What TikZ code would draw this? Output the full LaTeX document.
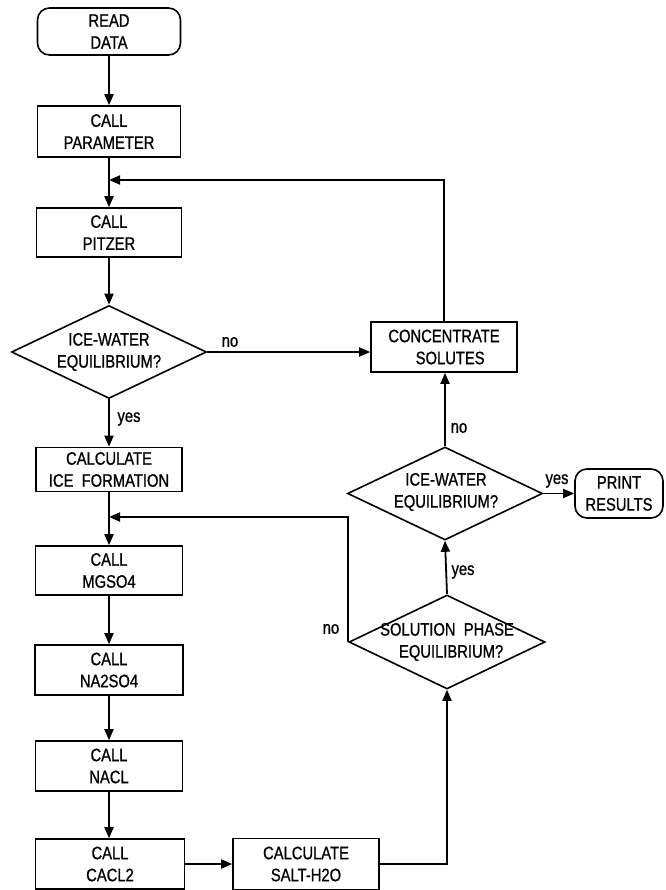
\documentclass[tikz,border=0pt]{standalone}
\usepackage{fontspec}
\setmainfont{Liberation Sans}[FakeStretch=0.82,FakeBold=0.9]
\usetikzlibrary{shapes.geometric,arrows.meta}
\begin{document}
\begin{tikzpicture}[x=1pt,y=-1pt,
  txt/.style={align=center, inner sep=0pt, font=\fontsize{18}{22}\selectfont},
  procbox/.style={txt, draw, line width=1.6pt, rectangle, minimum width=146pt, minimum height=50pt},
  termbox/.style={procbox, rounded corners=12pt},
  decbox/.style={draw, line width=1.6pt, diamond, inner sep=0pt, minimum width=195pt, minimum height=93pt},
  arr/.style={line width=1.8pt, -{Triangle[length=11pt,width=9pt]}},
  lbl/.style={inner sep=0pt, font=\fontsize{18}{20}\selectfont}
]
\useasboundingbox (0,0) rectangle (665,890);

% left column
\node[termbox, minimum width=143pt, minimum height=47pt] (read) at (109,31.5) {READ\\DATA};
\node[procbox, minimum width=143pt, minimum height=51pt] (param) at (109,131.5) {CALL\\PARAMETER};
\node[procbox, minimum width=145pt, minimum height=49pt] (pitzer) at (109,232.5) {CALL\\PITZER};
\node[decbox] (d1) at (109,352) {};
\node[txt] (d1t) at (109,352) {ICE-WATER\\EQUILIBRIUM?};
\node[procbox, minimum height=44pt] (ice) at (109,469.5) {CALCULATE\\ICE\ \ FORMATION};
\node[procbox, minimum width=147pt, minimum height=49pt] (mg) at (109,570.5) {CALL\\MGSO4};
\node[procbox, minimum width=148pt] (na2) at (109,670) {CALL\\NA2SO4};
\node[procbox, minimum width=147pt] (nacl) at (109,766) {CALL\\NACL};
\node[procbox, minimum width=149pt] (cacl) at (110,864) {CALL\\CACL2};

% right part
\node[procbox, minimum height=51pt] (salt) at (306,864) {CALCULATE\\SALT-H2O};
\node[procbox] (conc) at (444,347) {CONCENTRATE\\\ \ \ SOLUTES};
\node[decbox] (d2) at (445,493.5) {};
\node[txt] (d2t) at (446,492) {ICE-WATER\\EQUILIBRIUM?};
\node[decbox, minimum width=196pt, minimum height=94pt] (d3) at (447,642) {};
\node[txt] (d3t) at (447,642) {SOLUTION\ \ PHASE\\\ \ EQUILIBRIUM?};
\node[termbox, minimum width=88pt, minimum height=49pt] (print) at (619,493.5) {PRINT\\RESULTS};

% junction points
\coordinate (j1) at (109,180);
\coordinate (j2) at (109,517);

% connectors
\draw[arr] (read) -- (param);
\draw[arr] (param) -- (pitzer);
\draw[arr] (pitzer.south) -- (d1.north);
\draw[arr] (d1.south) -- (ice.north);
\draw[arr] (ice) -- (mg);
\draw[arr] (mg) -- (na2);
\draw[arr] (na2) -- (nacl);
\draw[arr] (nacl.south) -- (nacl.south |- cacl.north);
\draw[arr] (cacl.east) -- (salt.west);
\draw[arr] (salt.east) -| (d3.south);
\draw[arr] (d3.north) -- (d2.south);
\draw[arr] (d2.north) -- (d2.north |- conc.south);
\draw[arr] (d2.east) -- (print.west);
\draw[arr] (d1.east) -- (d1.east -| conc.west);
\draw[arr] (conc.north) |- (j1);
\draw[arr] (d3.west) |- (j2);

% labels
\node[lbl] (l1) at (230,342) {no};
\node[lbl] (l2) at (129,419) {yes};
\node[lbl] (l3) at (459,428) {no};
\node[lbl] (l4) at (463,572) {yes};
\node[lbl] (l5) at (557,481) {yes};
\node[lbl] (l6) at (331,629) {no};
\end{tikzpicture}
\end{document}
